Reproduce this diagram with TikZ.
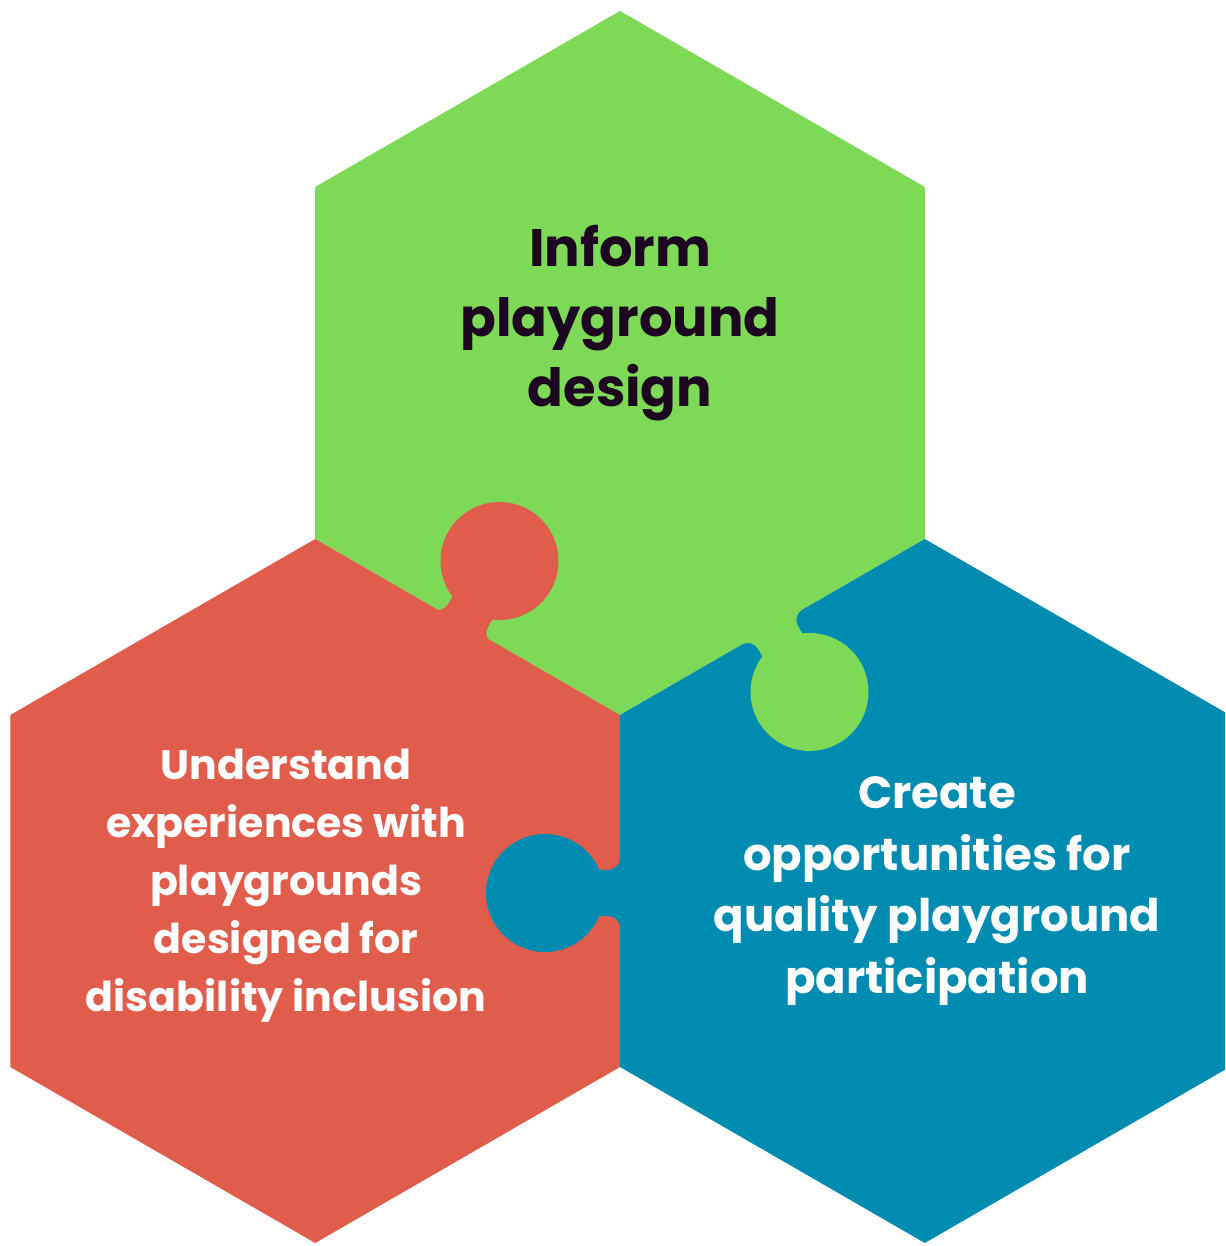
\documentclass[tikz,border=0pt]{standalone}
\usepackage{fontspec}
\setmainfont{Poppins}
\definecolor{hexgreen}{HTML}{7ED957}
\definecolor{hexred}{HTML}{E05C4B}
\definecolor{hexblue}{HTML}{008BB0}
\definecolor{inkdark}{HTML}{1C0620}

\begin{document}
\begin{tikzpicture}[x=0.02cm, y=0.02cm,
    greenhex/.style={fill=hexgreen},
    redhex/.style={fill=hexred},
    bluehex/.style={fill=hexblue},
    hextext/.style={align=center, inner sep=0pt}]
\useasboundingbox (0,0) rectangle (1225,1246);
\clip (0,0) rectangle (1225,1246);

%---------------------------------------------------------------------------------------- HEXAGONOS
\fill[greenhex, shift={(620,883)}]	% ------------------------------------------------- arriba
(90:352) -- (150:352) -- (210:352) -- (270:352) -- (330:352) -- (30:352) -- cycle;
\fill[redhex, shift={(315.2,355)}]	% ----------------------------------------------- izquierda
(90:352) -- (150:352) -- (210:352) -- (270:352) -- (330:352) -- (30:352) -- cycle;
\fill[bluehex, shift={(924.8,355)}]	% ----------------------------------------------- derecha
(90:352) -- (150:352) -- (210:352) -- (270:352) -- (330:352) -- (30:352) -- cycle;

%---------------------------------------------------------------------------------------- PESTANAS (puzzle)
% rojo -> verde
\fill[redhex, shift={(462,620)}, rotate=-30] (0,75) circle (59);
\fill[redhex, shift={(462,620)}, rotate=-30] (-35,-3) -- (-35,0) arc[start angle=-90, end angle=0, radius=12]
	-- (-23,30) -- (23,30) -- (23,12) arc[start angle=180, end angle=270, radius=12] -- (35,-3) -- cycle;
% verde -> azul
\fill[greenhex, shift={(772,619)}, rotate=210] (0,75) circle (59);
\fill[greenhex, shift={(772,619)}, rotate=210] (-35,-3) -- (-35,0) arc[start angle=-90, end angle=0, radius=12]
	-- (-23,30) -- (23,30) -- (23,12) arc[start angle=180, end angle=270, radius=12] -- (35,-3) -- cycle;
% azul -> rojo
\fill[bluehex, shift={(620,353)}, rotate=90] (0,75) circle (59);
\fill[bluehex, shift={(620,353)}, rotate=90] (-35,-3) -- (-35,0) arc[start angle=-90, end angle=0, radius=12]
	-- (-23,30) -- (23,30) -- (23,12) arc[start angle=180, end angle=270, radius=12] -- (35,-3) -- cycle;

%---------------------------------------------------------------------------------------- TEXTOS
\node[hextext, text=inkdark, font=\bfseries\fontsize{30}{40}\selectfont] (inform) at (620,923)
	{Inform\\playground\\design};
\node[hextext, text=white, font=\bfseries\fontsize{23.4}{33}\selectfont] (understand) at (286,360)
	{Understand\\experiences with\\playgrounds\\designed for\\disability inclusion};
\node[hextext, text=white, font=\bfseries\fontsize{25.6}{35}\selectfont] (create) at (937,355)
	{Create\\opportunities for\\quality playground\\participation};

\end{tikzpicture}
\end{document}
